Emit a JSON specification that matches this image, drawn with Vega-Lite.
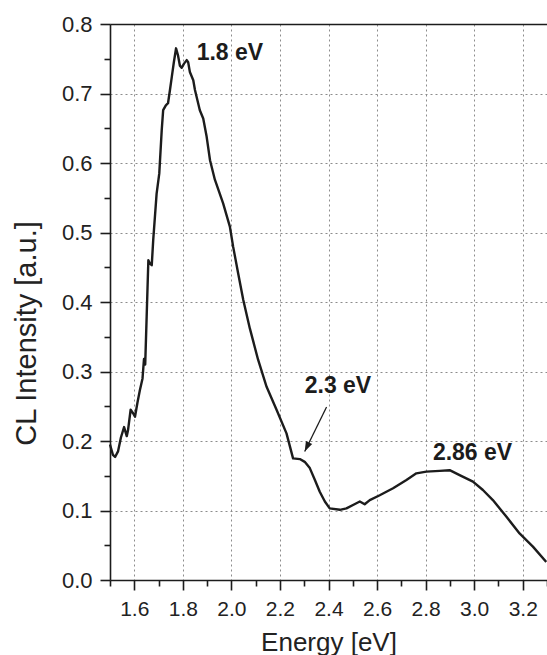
{
  "$schema": "https://vega.github.io/schema/vega-lite/v6.json",
  "width": 437,
  "height": 556,
  "autosize": {"type": "none"},
  "padding": {"left": 110, "top": 24, "right": 0, "bottom": 75},
  "background": "white",
  "config": {"view": {"stroke": null}, "font": "Liberation Sans"},
  "datasets": {
    "curve": [
      {"E": 1.500, "I": 0.195}, {"E": 1.512, "I": 0.180}, {"E": 1.521, "I": 0.177}, {"E": 1.533, "I": 0.185},
      {"E": 1.545, "I": 0.205}, {"E": 1.558, "I": 0.220}, {"E": 1.569, "I": 0.207}, {"E": 1.574, "I": 0.215},
      {"E": 1.585, "I": 0.245}, {"E": 1.595, "I": 0.240}, {"E": 1.603, "I": 0.235}, {"E": 1.613, "I": 0.255},
      {"E": 1.623, "I": 0.273}, {"E": 1.634, "I": 0.290}, {"E": 1.640, "I": 0.318}, {"E": 1.645, "I": 0.310},
      {"E": 1.651, "I": 0.379}, {"E": 1.658, "I": 0.460}, {"E": 1.665, "I": 0.455}, {"E": 1.672, "I": 0.453},
      {"E": 1.678, "I": 0.489}, {"E": 1.692, "I": 0.556}, {"E": 1.703, "I": 0.585}, {"E": 1.713, "I": 0.647},
      {"E": 1.719, "I": 0.676}, {"E": 1.730, "I": 0.683}, {"E": 1.739, "I": 0.686}, {"E": 1.747, "I": 0.705},
      {"E": 1.755, "I": 0.725}, {"E": 1.763, "I": 0.745}, {"E": 1.772, "I": 0.765}, {"E": 1.780, "I": 0.755},
      {"E": 1.788, "I": 0.740}, {"E": 1.795, "I": 0.737}, {"E": 1.805, "I": 0.743}, {"E": 1.816, "I": 0.748},
      {"E": 1.822, "I": 0.745}, {"E": 1.829, "I": 0.731}, {"E": 1.843, "I": 0.719}, {"E": 1.850, "I": 0.705},
      {"E": 1.870, "I": 0.676}, {"E": 1.884, "I": 0.664}, {"E": 1.898, "I": 0.638}, {"E": 1.912, "I": 0.604},
      {"E": 1.932, "I": 0.576}, {"E": 1.966, "I": 0.542}, {"E": 1.994, "I": 0.508}, {"E": 2.007, "I": 0.480},
      {"E": 2.028, "I": 0.441}, {"E": 2.049, "I": 0.403}, {"E": 2.076, "I": 0.362}, {"E": 2.110, "I": 0.317},
      {"E": 2.145, "I": 0.278}, {"E": 2.186, "I": 0.245}, {"E": 2.227, "I": 0.211}, {"E": 2.254, "I": 0.175},
      {"E": 2.282, "I": 0.174}, {"E": 2.302, "I": 0.170}, {"E": 2.323, "I": 0.161}, {"E": 2.344, "I": 0.144},
      {"E": 2.364, "I": 0.127}, {"E": 2.385, "I": 0.113}, {"E": 2.405, "I": 0.103}, {"E": 2.447, "I": 0.101},
      {"E": 2.474, "I": 0.103}, {"E": 2.501, "I": 0.108}, {"E": 2.529, "I": 0.113}, {"E": 2.549, "I": 0.109},
      {"E": 2.570, "I": 0.115}, {"E": 2.611, "I": 0.122}, {"E": 2.666, "I": 0.132}, {"E": 2.721, "I": 0.144},
      {"E": 2.762, "I": 0.1535}, {"E": 2.803, "I": 0.156}, {"E": 2.858, "I": 0.157}, {"E": 2.899, "I": 0.158},
      {"E": 2.940, "I": 0.151}, {"E": 2.995, "I": 0.1415}, {"E": 3.036, "I": 0.1295}, {"E": 3.077, "I": 0.115},
      {"E": 3.133, "I": 0.091}, {"E": 3.187, "I": 0.067}, {"E": 3.242, "I": 0.048}, {"E": 3.297, "I": 0.026}
    ],
    "labels": [
      {"E": 1.857, "I": 0.758, "label": "1.8 eV"},
      {"E": 2.302, "I": 0.279, "label": "2.3 eV"},
      {"E": 2.830, "I": 0.183, "label": "2.86 eV"}
    ],
    "arrow": [
      {"E": 2.392, "I": 0.249, "E2": 2.302, "I2": 0.185}
    ],
    "arrowhead": [
      {"E": 2.302, "I": 0.185}
    ]
  },
  "encoding": {
    "y": {
      "field": "I", "type": "quantitative",
      "scale": {"domain": [0, 0.8], "nice": false},
      "axis": {
        "values": [0, 0.05, 0.1, 0.15, 0.2, 0.25, 0.3, 0.35, 0.4, 0.45, 0.5, 0.55, 0.6, 0.65, 0.7, 0.75, 0.8],
        "labelExpr": "abs(datum.value*10 - round(datum.value*10)) < 0.001 ? format(datum.value, '.1f') : ''",
        "tickSize": 10,
        "tickDash": {"condition": {"test": "abs(datum.value*10 - round(datum.value*10)) < 0.001", "value": [20, 1]}, "value": [6, 20]},
        "grid": true,
        "gridOpacity": {"condition": {"test": "abs(datum.value*10 - round(datum.value*10)) < 0.001", "value": 1}, "value": 0},
        "gridColor": "#8c8c8c", "gridDash": [2, 3], "gridWidth": 1,
        "domain": true, "domainColor": "#1c1c1c", "domainWidth": 1.6,
        "ticks": true, "tickColor": "#1c1c1c", "tickWidth": 1.6,
        "labelFont": "Liberation Sans", "labelFontSize": 22, "labelColor": "#222222",
        "labelPadding": 8, "labelFlush": false, "labelOverlap": false,
        "title": "CL Intensity [a.u.]", "titleFont": "Liberation Sans", "titleFontSize": 29, "titleFontWeight": "normal",
        "titleColor": "#222222", "titleAngle": 270, "titleBaseline": "alphabetic", "titleAlign": "center",
        "titleX": -75, "titleY": 309
      }
    }
  },
  "layer": [
    {
      "data": {"name": "curve"},
      "mark": {"type": "line", "color": "#1c1c1c", "strokeWidth": 2.4, "strokeJoin": "round"},
      "encoding": {
        "x": {
          "field": "E", "type": "quantitative",
          "scale": {"domain": [1.5, 3.3], "nice": false, "zero": false},
          "axis": {
            "values": [1.5, 1.6, 1.7, 1.8, 1.9, 2.0, 2.1, 2.2, 2.3, 2.4, 2.5, 2.6, 2.7, 2.8, 2.9, 3.0, 3.1, 3.2, 3.3],
            "labelExpr": "abs(datum.value*5 - round(datum.value*5)) < 0.001 ? format(datum.value, '.1f') : ''",
            "tickSize": 10,
            "tickDash": {"condition": {"test": "abs(datum.value*5 - round(datum.value*5)) < 0.001", "value": [20, 1]}, "value": [6, 20]},
            "grid": true,
            "gridOpacity": {"condition": {"test": "abs(datum.value*5 - round(datum.value*5)) < 0.001", "value": 1}, "value": 0},
            "gridColor": "#8c8c8c", "gridDash": [2, 3], "gridWidth": 1,
            "domain": true, "domainColor": "#1c1c1c", "domainWidth": 1.6,
            "ticks": true, "tickColor": "#1c1c1c", "tickWidth": 1.6,
            "labelFont": "Liberation Sans", "labelFontSize": 21, "labelColor": "#222222",
            "labelPadding": 8, "labelFlush": false, "labelOverlap": false,
            "title": "Energy [eV]", "titleFont": "Liberation Sans", "titleFontSize": 26, "titleFontWeight": "normal",
            "titleColor": "#222222", "titleBaseline": "alphabetic", "titleY": 70
          }
        }
      }
    },
    {
      "data": {"name": "curve"},
      "mark": {"type": "point", "opacity": 0},
      "encoding": {
        "x": {"field": "E", "type": "quantitative",
          "axis": {"orient": "top", "labels": false, "ticks": false, "grid": false, "title": null, "domain": true, "domainColor": "#1c1c1c", "domainWidth": 1.6}}
      }
    },
    {
      "data": {"name": "arrow"},
      "mark": {"type": "rule", "color": "#1c1c1c", "strokeWidth": 1.3},
      "encoding": {
        "x": {"field": "E", "type": "quantitative", "axis": null},
        "x2": {"field": "E2"},
        "y2": {"field": "I2"}
      }
    },
    {
      "data": {"name": "arrowhead"},
      "mark": {"type": "point", "shape": "M0,0L-0.35,-1L0.35,-1Z", "filled": true, "color": "#1c1c1c", "opacity": 1, "size": 400, "angle": 25.7},
      "encoding": {
        "x": {"field": "E", "type": "quantitative", "axis": null}
      }
    },
    {
      "data": {"name": "labels"},
      "mark": {"type": "text", "align": "left", "baseline": "middle", "font": "Liberation Sans", "fontSize": 23, "fontWeight": "bold", "color": "#1c1c1c"},
      "encoding": {
        "x": {"field": "E", "type": "quantitative", "axis": null},
        "text": {"field": "label"}
      }
    }
  ],
  "resolve": {"axis": {"x": "independent"}}
}
